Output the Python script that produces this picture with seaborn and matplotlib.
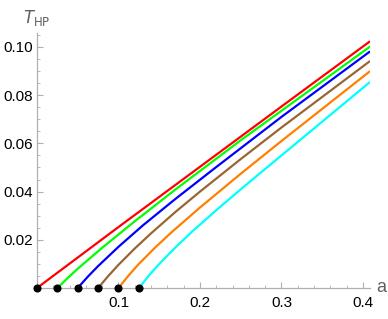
import numpy as np
import pandas as pd
import matplotlib
matplotlib.use("Agg")
import matplotlib.pyplot as plt
from matplotlib.ticker import MultipleLocator, FormatStrFormatter
import seaborn as sns

# DATA
curve_names = ["c0", "c1", "c2", "c3", "c4", "c5"]
curve_colors = ["#ff0000", "#00ff00", "#0000ff", "#996633", "#ff8000", "#00ffff"]

a_red = [0.0, 0.1, 0.2, 0.3, 0.408]
T_red = [0.0, 0.0253, 0.0503, 0.0753, 0.1022]

a_green = [0.025, 0.0375, 0.05, 0.08, 0.12, 0.17, 0.25, 0.408]
T_green = [0.0, 0.0041, 0.0080, 0.0167, 0.0277, 0.0409, 0.0613, 0.1000]

a_blue = [0.05, 0.0625, 0.075, 0.1, 0.13, 0.17, 0.22, 0.3, 0.408]
T_blue = [0.0, 0.00475, 0.0091, 0.0171, 0.0260, 0.0370, 0.0502, 0.0710, 0.0980]

a_brown = [0.075, 0.0875, 0.1, 0.12, 0.14, 0.17, 0.2, 0.25, 0.3, 0.408]
T_brown = [0.0, 0.0050, 0.00963, 0.0164, 0.0227, 0.0316, 0.0400, 0.0535, 0.0666, 0.0940]

a_orange = [0.1, 0.1125, 0.125, 0.145, 0.165, 0.2, 0.25, 0.3, 0.408]
T_orange = [0.0, 0.00525, 0.0100, 0.0168, 0.0231, 0.0334, 0.0474, 0.0610, 0.0898]

a_cyan = [0.125, 0.1375, 0.15, 0.17, 0.19, 0.22, 0.26, 0.3, 0.408]
T_cyan = [0.0, 0.00525, 0.0100, 0.0169, 0.0233, 0.0323, 0.0438, 0.0550, 0.0853]

# starting points (black dots)
a_start = [0.0, 0.025, 0.05, 0.075, 0.1, 0.125]
T_start = [0.0, 0.0, 0.0, 0.0, 0.0, 0.0]

all_a = [a_red, a_green, a_blue, a_brown, a_orange, a_cyan]
all_T = [T_red, T_green, T_blue, T_brown, T_orange, T_cyan]

frames = []
for name, a_vals, T_vals in zip(curve_names, all_a, all_T):
    frames.append(pd.DataFrame({"a": a_vals, "T": T_vals, "curve": name}))
df = pd.concat(frames, ignore_index=True)
dots = pd.DataFrame({"a": a_start, "T": T_start})

# PLOT
sns.set_style("white")
plt.rcParams["font.family"] = ["Liberation Sans", "DejaVu Sans"]

fig = plt.figure(figsize=(3.88, 3.19), dpi=100)
ax = fig.add_axes([37 / 388, 31 / 319, 333 / 388, 255 / 319])

sns.lineplot(
    data=df, x="a", y="T", hue="curve", palette=curve_colors,
    estimator=None, sort=False, linewidth=1.6, legend=False, ax=ax
)
sns.scatterplot(
    data=dots, x="a", y="T", color="black", s=34, edgecolor="black",
    linewidth=0, zorder=5, clip_on=False, legend=False, ax=ax
)

ax.set_xlim(0, 0.4086)
ax.set_ylim(0, 0.1058)

grey = "#b0b0b0"
for side in ["top", "right"]:
    ax.spines[side].set_visible(False)
for side in ["left", "bottom"]:
    ax.spines[side].set_color(grey)
    ax.spines[side].set_linewidth(0.9)

ax.set_xticks([0.1, 0.2, 0.3, 0.4])
ax.set_yticks([0.02, 0.04, 0.06, 0.08, 0.10])
ax.xaxis.set_minor_locator(MultipleLocator(0.02))
ax.yaxis.set_minor_locator(MultipleLocator(0.005))
ax.xaxis.set_major_formatter(FormatStrFormatter("%.1f"))
ax.yaxis.set_major_formatter(FormatStrFormatter("%.2f"))

ax.tick_params(which="both", direction="in", color=grey, labelsize=11,
               labelcolor="black", bottom=True, left=True)
ax.tick_params(which="major", length=4, width=0.8)
ax.tick_params(which="minor", length=2.5, width=0.6)
ax.tick_params(axis="x", which="both", pad=6)
ax.tick_params(axis="y", which="both", pad=3)

ax.set_xlabel("")
ax.set_ylabel("")
ax.text(0.0, 1.02, r"$T_{\mathrm{HP}}$", transform=ax.transAxes, ha="center",
        va="bottom", fontsize=12, color="#606060")
ax.text(1.02, 0.0, "a", transform=ax.transAxes, ha="left", va="center",
        fontsize=13, color="#606060")

fig.savefig("out.png", dpi=100)
